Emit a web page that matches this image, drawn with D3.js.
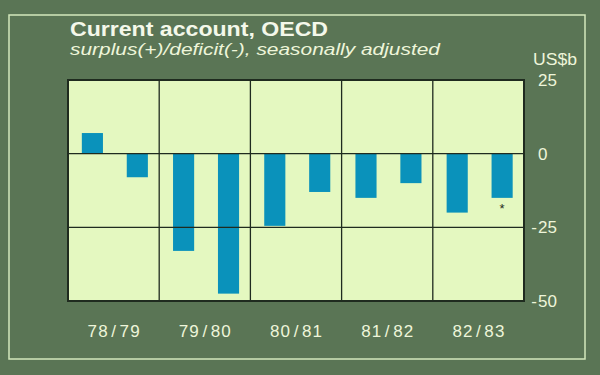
<!DOCTYPE html>
<html>
<head>
<meta charset="utf-8">
<script src="https://cdn.jsdelivr.net/npm/d3@7"></script>
<style>
  html, body { margin: 0; padding: 0; background: #5a7555; }
  svg { display: block; }
</style>
</head>
<body>
<div id="chart"></div>
<script>
// data (US$ billion, half-years)
const years = ['78/79', '79/80', '80/81', '81/82', '82/83'];
const halves = ['H1', 'H2'];
const firstHalf = [7, -33, -24.5, -15, -20];
const secondHalf = [-8, -47.5, -13, -10, -15];
const yTicks = [25, 0, -25, -50];

const width = 600, height = 375;
const plot = { left: 68, right: 524, top: 80, bottom: 301 };

const svg = d3.select('#chart')
  .append('svg')
  .attr('width', width)
  .attr('height', height)
  .attr('xmlns', 'http://www.w3.org/2000/svg');

// background and thin frame
svg.append('rect')
  .attr('width', width).attr('height', height)
  .attr('fill', '#5a7555');
svg.append('rect')
  .attr('x', 9).attr('y', 15).attr('width', 576).attr('height', 344)
  .attr('fill', 'none')
  .attr('stroke', '#d3e8bc')
  .attr('stroke-width', 1.5);

// scales
const x = d3.scaleBand()
  .domain(years)
  .range([plot.left, plot.right])
  .padding(0);

const xi = d3.scaleBand()
  .domain(halves)
  .range([0, x.bandwidth()])
  .paddingInner(0.53)
  .paddingOuter(0.28)
  .align(0.55);

const y = d3.scaleLinear()
  .domain([-50, 25])
  .range([plot.bottom, plot.top]);

// plot area
svg.append('rect')
  .attr('x', plot.left).attr('y', plot.top)
  .attr('width', plot.right - plot.left)
  .attr('height', plot.bottom - plot.top)
  .attr('fill', '#e4f8c0');

// bars
const rows = years.map((yr, i) => [
  { year: yr, half: 'H1', value: firstHalf[i] },
  { year: yr, half: 'H2', value: secondHalf[i] }
]).flat();

svg.append('g')
  .selectAll('rect')
  .data(rows)
  .enter()
  .append('rect')
  .attr('x', d => x(d.year) + xi(d.half))
  .attr('y', d => y(Math.max(0, d.value)))
  .attr('width', xi.bandwidth())
  .attr('height', d => Math.abs(y(d.value) - y(0)))
  .attr('fill', '#0a92bb');

// grid lines
const grid = svg.append('g')
  .attr('stroke', '#1f2b1f')
  .attr('stroke-width', 1.3);

grid.selectAll('line.h')
  .data([0, -25])
  .enter()
  .append('line')
  .attr('x1', plot.left).attr('x2', plot.right)
  .attr('y1', d => y(d)).attr('y2', d => y(d));

grid.selectAll('line.v')
  .data(years.slice(1))
  .enter()
  .append('line')
  .attr('x1', d => x(d)).attr('x2', d => x(d))
  .attr('y1', plot.top).attr('y2', plot.bottom);

svg.append('rect')
  .attr('x', plot.left).attr('y', plot.top)
  .attr('width', plot.right - plot.left)
  .attr('height', plot.bottom - plot.top)
  .attr('fill', 'none')
  .attr('stroke', '#1f2b1f')
  .attr('stroke-width', 2);

// asterisk under the last bar
const last = rows[rows.length - 1];
svg.append('text')
  .attr('x', x(last.year) + xi(last.half) + xi.bandwidth() / 2)
  .attr('y', y(last.value) + 15)
  .attr('text-anchor', 'middle')
  .attr('fill', '#1f2b1f')
  .style('font-family', 'Liberation Sans, Arial, sans-serif')
  .style('font-size', '13px')
  .text('*');

const textColor = '#eef5da';
const font = 'Liberation Sans, Arial, sans-serif';

// y axis labels on the right
const yLab = svg.append('g')
  .style('font-family', font)
  .style('font-size', '17px')
  .attr('fill', textColor);

yLab.selectAll('text.num')
  .data(yTicks)
  .enter()
  .append('text')
  .attr('x', 538)
  .attr('y', d => y(d))
  .attr('dy', '0.36em')
  .text(d => Math.abs(d));

yLab.selectAll('text.minus')
  .data(yTicks.filter(d => d < 0))
  .enter()
  .append('text')
  .attr('x', 537)
  .attr('y', d => y(d))
  .attr('dy', '0.36em')
  .attr('text-anchor', 'end')
  .text('-');

svg.append('text')
  .attr('x', 533).attr('y', 65)
  .attr('fill', textColor)
  .style('font-family', font)
  .style('font-size', '16px')
  .attr('textLength', 44)
  .attr('lengthAdjust', 'spacingAndGlyphs')
  .text('US$b');

// x axis labels
svg.append('g')
  .selectAll('text')
  .data(years)
  .enter()
  .append('text')
  .attr('x', d => x(d) + x.bandwidth() / 2)
  .attr('y', 337)
  .attr('text-anchor', 'middle')
  .attr('fill', textColor)
  .style('font-family', font)
  .style('font-size', '17px')
  .attr('textLength', 52)
  .attr('lengthAdjust', 'spacing')
  .text(d => d.replace('/', '\u200a/\u200a'));

// titles
svg.append('text')
  .attr('x', 70).attr('y', 36)
  .attr('fill', '#f4f8ea')
  .style('font-family', font)
  .style('font-size', '20px')
  .style('font-weight', 'bold')
  .attr('textLength', 258)
  .attr('lengthAdjust', 'spacingAndGlyphs')
  .text('Current account, OECD');

svg.append('text')
  .attr('x', 70).attr('y', 55)
  .attr('fill', textColor)
  .style('font-family', font)
  .style('font-size', '17px')
  .style('font-style', 'italic')
  .attr('textLength', 370)
  .attr('lengthAdjust', 'spacingAndGlyphs')
  .text('surplus(+)/deficit(-), seasonally adjusted');
</script>
</body>
</html>
